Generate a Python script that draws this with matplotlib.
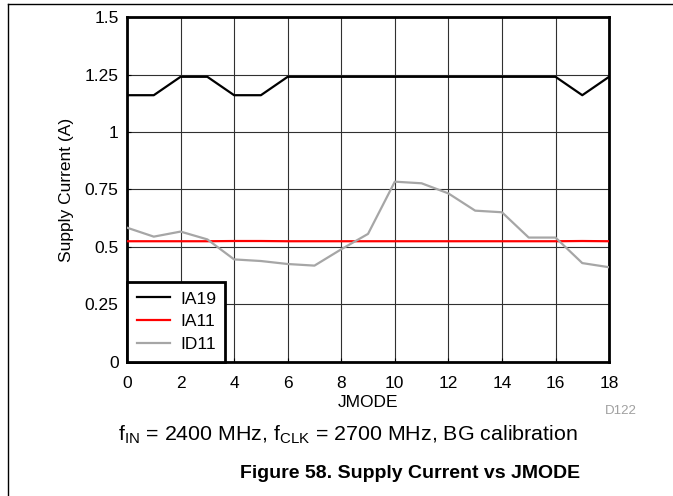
import matplotlib
matplotlib.use("Agg")
import matplotlib.pyplot as plt
from matplotlib.lines import Line2D

plt.rcParams["font.family"] = ["Liberation Sans", "DejaVu Sans"]
plt.rcParams["mathtext.fontset"] = "custom"
plt.rcParams["mathtext.rm"] = "Liberation Sans"

jmode = list(range(19))
ia19 = [1.16, 1.16, 1.24, 1.24, 1.16, 1.16, 1.24, 1.24, 1.24, 1.24,
        1.24, 1.24, 1.24, 1.24, 1.24, 1.24, 1.24, 1.16, 1.24]
ia11 = [0.525, 0.525, 0.525, 0.525, 0.526, 0.526, 0.525, 0.525, 0.525, 0.525,
        0.525, 0.525, 0.525, 0.525, 0.525, 0.525, 0.525, 0.526, 0.525]
id11 = [0.584, 0.545, 0.567, 0.533, 0.446, 0.439, 0.426, 0.419, 0.49, 0.557,
        0.784, 0.777, 0.733, 0.658, 0.651, 0.541, 0.541, 0.430, 0.412]

xticks = list(range(0, 19, 2))
yticks = [0, 0.25, 0.5, 0.75, 1, 1.25, 1.5]
ylabels = ["0", "0.25", "0.5", "0.75", "1", "1.25", "1.5"]

fs = 12.5

fig = plt.figure(figsize=(6.73, 4.96), dpi=100)
ax = fig.add_axes([0.1887, 0.2702, 0.7163, 0.6955])

ax.plot(jmode, ia19, color="black", lw=1.6, label="IA19", zorder=4)
ax.plot(jmode, ia11, color="#ff0000", lw=1.6, label="IA11", zorder=3)
ax.plot(jmode, id11, color="#a6a6a6", lw=1.6, label="ID11", zorder=3)

ax.set_xlim(0, 18)
ax.set_ylim(0, 1.5)
ax.set_xticks(xticks)
ax.set_yticks(yticks)
ax.set_yticklabels(ylabels)
ax.tick_params(labelsize=fs, length=3, direction="in", width=0.8)
ax.tick_params(axis="x", pad=10)
ax.tick_params(axis="y", pad=6)
ax.grid(True, color="#303030", lw=0.8)
ax.set_axisbelow(True)
for s in ax.spines.values():
    s.set_linewidth(2)
    s.set_color("black")

ax.set_xlabel("JMODE", fontsize=fs, labelpad=3)
ax.set_ylabel("Supply Current (A)", fontsize=fs, labelpad=8)

leg = ax.legend(loc="lower left", fontsize=fs, frameon=True, fancybox=False,
                borderaxespad=0, handlelength=1.9, handletextpad=0.6,
                labelspacing=0.45, borderpad=0.55)
leg.get_frame().set_edgecolor("black")
leg.get_frame().set_linewidth(2)
leg.get_frame().set_alpha(1)

fig.text(637 / 673, 1 - 411 / 496, "D122", fontsize=9.6, color="#a0a0a0",
         ha="right", va="center")
fig.text(348 / 673, 1 - 435 / 496,
         r"f$_{\mathrm{IN}}$ = 2400 MHz, f$_{\mathrm{CLK}}$ = 2700 MHz, BG calibration",
         fontsize=15.4, ha="center", va="center")
fig.text(410 / 673, 1 - 473 / 496, "Figure 58. Supply Current vs JMODE", fontsize=14,
         fontweight="bold", ha="center", va="center")

fig.add_artist(Line2D([8 / 673, 1], [1 - 4 / 496, 1 - 4 / 496], color="black", lw=1))
fig.add_artist(Line2D([8 / 673, 8 / 673], [0, 1 - 4 / 496], color="black", lw=1))

fig.savefig("out.png", dpi=100)
